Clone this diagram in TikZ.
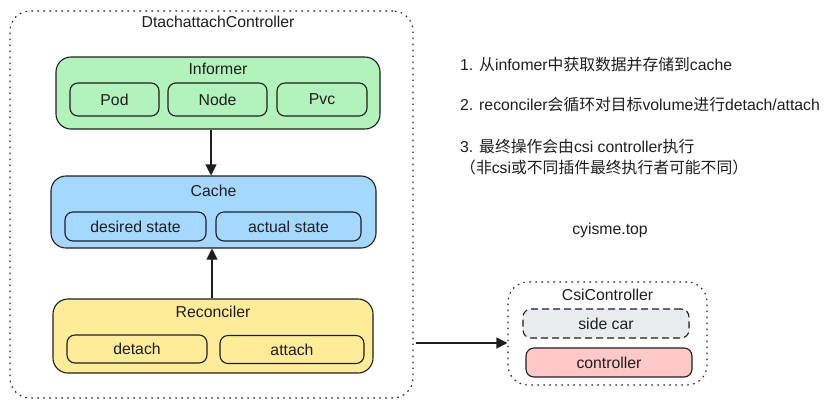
\documentclass[tikz,border=0pt]{standalone}
\usepackage{fontspec}
\setmainfont{Liberation Sans}
\newfontfamily\cjk{Noto Sans CJK SC}
\usetikzlibrary{arrows.meta,positioning}
\definecolor{ink}{HTML}{1E1E1E}
\definecolor{informergreen}{HTML}{B2F2BB}
\definecolor{cacheblue}{HTML}{A5D8FF}
\definecolor{reconyellow}{HTML}{FFEC99}
\definecolor{sidegray}{HTML}{E9ECEF}
\definecolor{ctrlpink}{HTML}{FFC9C9}

\begin{document}
\begin{tikzpicture}[x=1pt,y=-1pt,
  every node/.style={font=\fontsize{15.8}{19}\selectfont, text=ink, inner sep=0pt},
  group/.style={draw=ink, line width=1.1pt, dash pattern=on 1.6pt off 4.4pt, rounded corners=20pt},
  panel/.style={draw=ink, line width=1.1pt, rounded corners=15pt},
  item/.style={draw=ink, line width=1.1pt, rounded corners=8pt},
  arr/.style={draw=ink, line width=1.1pt, -{Triangle[length=11pt,width=11pt]}}]
\useasboundingbox (0,0) rectangle (832,408);
% controller box
\node[group, minimum width=403pt, minimum height=387pt] (dac) at (211.5,204.5) {};
\node (dactitle) at (218,22) {DtachattachController};
\begin{scope}
\node[panel, fill=informergreen, minimum width=324pt, minimum height=72pt] (informer) at (218,93) {};
\node (informertitle) at (218,69) {Informer};
\node[item, fill=informergreen, minimum width=89pt, minimum height=33pt] (pod) at (114.5,99.5) {Pod};
\node[item, fill=informergreen, minimum width=99pt, minimum height=33pt] (nodes) at (217.5,99.5) {Node};
\node[item, fill=informergreen, minimum width=90pt, minimum height=33pt] (pvc) at (322,99.5) {Pvc};
\end{scope}
\begin{scope}
\node[panel, fill=cacheblue, minimum width=325pt, minimum height=72pt] (cache) at (213.5,212) {};
\node (cachetitle) at (213.5,191) {Cache};
\node[item, fill=cacheblue, minimum width=141pt, minimum height=29pt] (desired) at (135.5,226.5) {desired state};
\node[item, fill=cacheblue, minimum width=145pt, minimum height=29pt] (actual) at (288.5,226.5) {actual state};
\end{scope}
\begin{scope}
\node[panel, fill=reconyellow, minimum width=320pt, minimum height=74pt] (reconciler) at (213,336) {};
\node (reconcilertitle) at (213,312) {Reconciler};
\node[item, fill=reconyellow, minimum width=140pt, minimum height=28pt] (detach) at (137,349) {detach};
\node[item, fill=reconyellow, minimum width=144pt, minimum height=28pt] (attach) at (292,349.5) {attach};
\end{scope}
\draw[arr] ([xshift=-7pt]informer.south) -- ([xshift=-2.5pt]cache.north);
\draw[arr] ([xshift=-1pt]reconciler.north) -- ([xshift=-1.5pt]cache.south);
% csi side
\node[group, minimum width=199pt, minimum height=103pt] (csi) at (607.5,333.5) {};
\node (csititle) at (607.5,295) {CsiController};
\node[item, fill=sidegray, dash pattern=on 7pt off 4pt, minimum width=166pt, minimum height=29pt] (sidecar) at (606,323.5) {side car};
\node[item, fill=ctrlpink, minimum width=166pt, minimum height=29pt] (controller) at (609,362.5) {controller};
\coordinate (handoff) at (416,343);
\draw[arr] (handoff) -- (handoff -| csi.west);
% notes
\node[anchor=west] (step1) at (460,65) {1. {\cjk 从}infomer{\cjk 中获取数据并存储到}cache};
\node[anchor=west] (step2) at (460,105) {2. reconciler{\cjk 会循环对目标}volume{\cjk 进行}detach/attach};
\node[anchor=west] (step3) at (460,147) {3. {\cjk 最终操作会由}csi controller{\cjk 执行}};
\node[anchor=west] (step3b) at (460,167) {{\cjk （非}csi{\cjk 或不同插件最终执行者可能不同）}};
\node (site) at (610,230) {cyisme.top};
\end{tikzpicture}
\end{document}
